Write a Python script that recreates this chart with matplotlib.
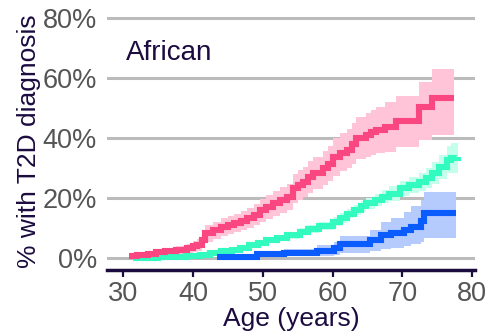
import numpy as np
import matplotlib
matplotlib.use('Agg')
import matplotlib.pyplot as plt

### data (age in years, cumulative % with T2D) ###
red_age = [30.8, 32.0, 33.5, 34.6, 36.0, 37.5, 39.1, 40.0, 40.5, 41.2, 41.7, 42.9, 44.0, 45.0,
           45.8, 46.8, 47.7, 48.7, 49.6, 50.5, 51.5, 52.5, 53.4, 54.3, 55.0, 55.8, 56.5, 57.2,
           58.6, 59.3, 60.0, 61.0, 62.0, 62.8, 63.4, 64.8, 65.5, 66.2, 67.5, 69.1, 72.4, 74.3, 77.4]
red_est = [0.8, 1.0, 1.3, 2.0, 2.3, 2.8, 3.3, 4.0, 4.3, 6.0, 8.3, 9.3, 10.3, 11.0,
           11.7, 12.5, 13.3, 14.5, 16.0, 17.0, 18.3, 19.3, 20.3, 23.3, 24.3, 25.3, 27.0, 28.3,
           30.0, 31.5, 33.7, 35.0, 36.0, 38.0, 40.0, 41.0, 42.0, 42.7, 43.7, 45.8, 50.3, 53.3, 53.3]
red_lo = [0.2, 0.3, 0.5, 0.9, 1.0, 1.3, 1.6, 2.0, 2.2, 3.5, 5.5, 6.5, 7.3, 8.0,
          8.6, 9.3, 10.0, 11.0, 12.0, 13.0, 14.0, 15.0, 16.0, 18.5, 19.3, 20.3, 21.8, 23.0,
          24.3, 25.8, 27.5, 29.0, 30.0, 31.5, 33.0, 33.8, 34.5, 35.0, 35.5, 37.0, 39.3, 41.0, 41.0]
red_hi = [1.5, 1.8, 2.2, 3.0, 3.4, 4.0, 4.8, 5.8, 6.3, 8.5, 11.0, 12.0, 13.2, 14.0,
          14.8, 15.8, 16.8, 18.0, 19.8, 21.0, 22.5, 23.8, 24.8, 28.0, 29.3, 30.5, 32.3, 33.8,
          35.8, 37.5, 40.0, 41.7, 43.0, 45.0, 47.0, 48.3, 49.5, 50.5, 52.0, 54.0, 58.8, 62.9, 62.9]

green_age = [31.4, 33.0, 35.0, 37.0, 39.0, 41.0, 42.4, 44.0, 45.5, 46.7, 48.0, 49.3, 50.5, 52.0,
             53.5, 55.3, 56.5, 58.0, 60.0, 61.0, 62.0, 63.0, 64.0, 64.8, 66.0, 67.0, 68.0, 69.6,
             71.0, 72.4, 73.4, 74.3, 75.3, 76.4, 76.9, 77.9]
green_est = [0.0, 0.1, 0.3, 0.5, 0.7, 1.0, 1.6, 2.3, 2.8, 3.3, 4.2, 5.0, 6.0, 6.8,
             7.6, 8.8, 9.6, 10.6, 12.1, 13.3, 14.8, 16.0, 17.2, 18.2, 19.4, 20.4, 21.5, 23.2,
             24.3, 25.4, 26.6, 28.3, 30.4, 32.7, 33.5, 33.8]
green_lo = [0.0, 0.0, 0.1, 0.2, 0.4, 0.6, 1.1, 1.7, 2.2, 2.6, 3.4, 4.2, 5.0, 5.8,
            6.5, 7.6, 8.3, 9.3, 10.7, 11.8, 13.2, 14.3, 15.4, 16.3, 17.3, 18.2, 19.1, 20.6,
            21.6, 22.5, 23.4, 24.8, 26.5, 28.2, 28.5, 28.5]
green_hi = [0.2, 0.3, 0.5, 0.8, 1.1, 1.4, 2.1, 2.9, 3.4, 4.0, 5.0, 5.9, 7.0, 7.8,
            8.7, 10.0, 10.9, 12.0, 13.6, 14.9, 16.4, 17.7, 19.0, 20.1, 21.5, 22.6, 23.9, 25.8,
            27.1, 28.4, 30.0, 32.0, 34.5, 37.2, 38.3, 38.3]

blue_age = [43.4, 49.1, 53.0, 57.8, 60.2, 61.1, 65.4, 66.9, 68.3, 70.2, 71.2, 72.7, 73.1, 77.7]
blue_est = [0.3, 1.3, 1.8, 2.4, 3.3, 4.6, 6.0, 7.7, 8.5, 9.5, 10.4, 12.5, 14.9, 14.9]
blue_lo = [0.0, 0.3, 0.6, 0.6, 1.0, 1.8, 2.3, 2.9, 3.3, 3.9, 4.6, 5.3, 6.6, 6.6]
blue_hi = [1.3, 2.5, 3.0, 4.2, 5.5, 7.3, 9.5, 12.0, 13.5, 15.5, 17.5, 19.3, 22.1, 22.1]

series = [
    (green_age, green_est, green_lo, green_hi, '#33FBBF', '#C4FFEC'),
    (blue_age, blue_est, blue_lo, blue_hi, '#0B5CFF', '#B5CBFD'),
    (red_age, red_est, red_lo, red_hi, '#FB4781', '#FFC4D7'),
]

plt.rcParams['font.family'] = ['Liberation Sans', 'DejaVu Sans']
navy = '#1B0B3F'
grey_txt = '#555555'

fig = plt.figure(figsize=(4.89, 3.32), dpi=100)
ax = fig.add_axes([106.7 / 489, 62 / 332, (475 - 106.7) / 489, 258 / 332])

for yv in [0, 20, 40, 60, 80]:
    ax.axhline(yv, color='#BBBBBB', lw=2.2, zorder=1)

for age, est, lo, hi, lc, fc in series:
    ax.fill_between(age, lo, hi, step='post', color=fc, lw=0, zorder=2)
for age, est, lo, hi, lc, fc in series:
    ax.step(age, est, where='post', color=lc, lw=4.4, zorder=3,
            solid_joinstyle='miter', solid_capstyle='butt')

ax.set_xlim(27.6, 80.4)
ax.set_ylim(-4, 82)
ax.set_xticks([30, 40, 50, 60, 70, 80])
ax.set_yticks([0, 20, 40, 60, 80])
ax.set_yticklabels(['0%', '20%', '40%', '60%', '80%'])

for s in ['top', 'right', 'left']:
    ax.spines[s].set_visible(False)
ax.spines['bottom'].set_color(navy)
ax.spines['bottom'].set_linewidth(2.5)
ax.tick_params(axis='x', colors=navy, width=1.6, length=5, labelsize=19.5, labelcolor=grey_txt, pad=3)
ax.tick_params(axis='y', length=0, labelsize=19.5, labelcolor=grey_txt, pad=7)

ax.set_xlabel('Age (years)', fontsize=19, color=navy, labelpad=0)
ax.set_ylabel('% with T2D diagnosis', fontsize=19, color=navy, labelpad=1)
ax.text(0.052, 0.815, 'African', transform=ax.transAxes, fontsize=20, color=navy)

fig.savefig('out.png', dpi=100)
